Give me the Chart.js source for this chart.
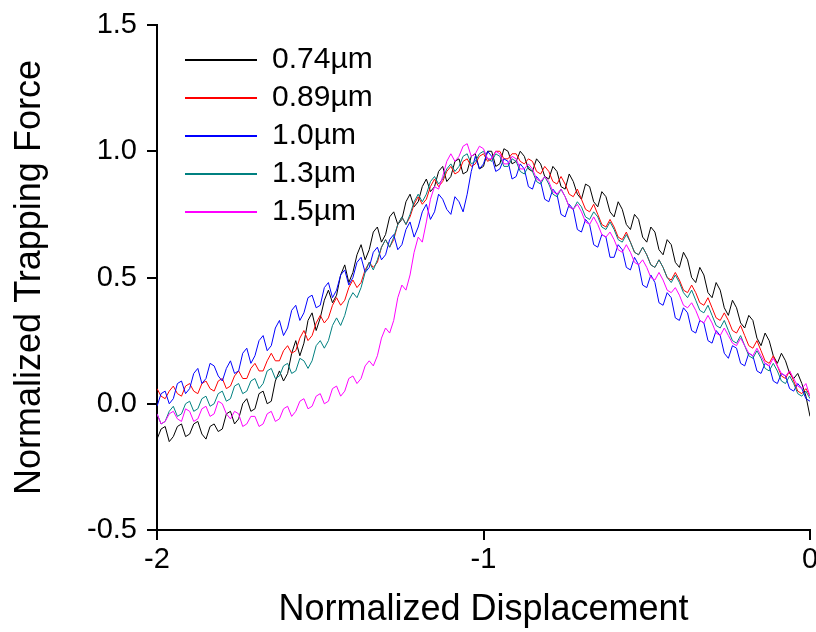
<!DOCTYPE html>
<html lang="en">
<head>
    <meta charset="UTF-8">
    <title>Normalized Trapping Force</title>
    <script src="https://cdn.jsdelivr.net/npm/chart.js@4/dist/chart.umd.min.js"></script>
    <style>
        body { margin: 0; background: #fff; }
        #wrap { width: 816px; height: 632px; }
    </style>
</head>
<body>
<div id="wrap"><canvas id="forceChart" width="816" height="632"></canvas></div>
<script>
    // normalized displacement, shared by every trace
    const displacement = [
        -2.0000, -1.9875, -1.9750, -1.9625, -1.9500, -1.9375, -1.9250, -1.9125, -1.9000, -1.8875,
        -1.8750, -1.8625, -1.8500, -1.8375, -1.8250, -1.8125, -1.8000, -1.7875, -1.7750, -1.7625,
        -1.7500, -1.7375, -1.7250, -1.7125, -1.7000, -1.6875, -1.6750, -1.6625, -1.6500, -1.6375,
        -1.6250, -1.6125, -1.6000, -1.5875, -1.5750, -1.5625, -1.5500, -1.5375, -1.5250, -1.5125,
        -1.5000, -1.4875, -1.4750, -1.4625, -1.4500, -1.4375, -1.4250, -1.4125, -1.4000, -1.3875,
        -1.3750, -1.3625, -1.3500, -1.3375, -1.3250, -1.3125, -1.3000, -1.2875, -1.2750, -1.2625,
        -1.2500, -1.2375, -1.2250, -1.2125, -1.2000, -1.1875, -1.1750, -1.1625, -1.1500, -1.1375,
        -1.1250, -1.1125, -1.1000, -1.0875, -1.0750, -1.0625, -1.0500, -1.0375, -1.0250, -1.0125,
        -1.0000, -0.9875, -0.9750, -0.9625, -0.9500, -0.9375, -0.9250, -0.9125, -0.9000, -0.8875,
        -0.8750, -0.8625, -0.8500, -0.8375, -0.8250, -0.8125, -0.8000, -0.7875, -0.7750, -0.7625,
        -0.7500, -0.7375, -0.7250, -0.7125, -0.7000, -0.6875, -0.6750, -0.6625, -0.6500, -0.6375,
        -0.6250, -0.6125, -0.6000, -0.5875, -0.5750, -0.5625, -0.5500, -0.5375, -0.5250, -0.5125,
        -0.5000, -0.4875, -0.4750, -0.4625, -0.4500, -0.4375, -0.4250, -0.4125, -0.4000, -0.3875,
        -0.3750, -0.3625, -0.3500, -0.3375, -0.3250, -0.3125, -0.3000, -0.2875, -0.2750, -0.2625,
        -0.2500, -0.2375, -0.2250, -0.2125, -0.2000, -0.1875, -0.1750, -0.1625, -0.1500, -0.1375,
        -0.1250, -0.1125, -0.1000, -0.0875, -0.0750, -0.0625, -0.0500, -0.0375, -0.0250, -0.0125,
        0.0000
    ];

    const force074 = [
        -0.14, -0.10, -0.09, -0.15, -0.13, -0.09, -0.08, -0.13, -0.12, -0.08,
        -0.07, -0.12, -0.14, -0.09, -0.08, -0.11, -0.10, -0.04, -0.03, -0.08,
        -0.06, 0.00, 0.02, -0.03, -0.02, 0.04, 0.05, 0.00, 0.01, 0.09,
        0.13, 0.09, 0.12, 0.20, 0.25, 0.19, 0.24, 0.33, 0.36, 0.29,
        0.34, 0.41, 0.45, 0.40, 0.43, 0.51, 0.55, 0.48, 0.52, 0.59,
        0.63, 0.57, 0.61, 0.68, 0.70, 0.64, 0.67, 0.74, 0.76, 0.71,
        0.73, 0.80, 0.83, 0.78, 0.80, 0.86, 0.89, 0.84, 0.86, 0.92,
        0.94, 0.88, 0.90, 0.96, 0.97, 0.91, 0.92, 0.98, 0.99, 0.93,
        0.94, 1.00, 1.00, 0.94, 0.95, 1.01, 1.00, 0.95, 0.96, 1.00,
        0.98, 0.93, 0.92, 0.97, 0.95, 0.90, 0.89, 0.94, 0.92, 0.86,
        0.85, 0.91, 0.88, 0.83, 0.81, 0.87, 0.86, 0.80, 0.78, 0.84,
        0.82, 0.76, 0.74, 0.80, 0.77, 0.71, 0.69, 0.75, 0.73, 0.66,
        0.64, 0.70, 0.68, 0.61, 0.59, 0.65, 0.63, 0.56, 0.54, 0.60,
        0.57, 0.50, 0.48, 0.54, 0.51, 0.44, 0.42, 0.48, 0.45, 0.38,
        0.35, 0.41, 0.38, 0.32, 0.30, 0.35, 0.33, 0.26, 0.23, 0.28,
        0.25, 0.19, 0.16, 0.20, 0.17, 0.12, 0.10, 0.12, 0.08, 0.03,
        -0.05
    ];
    const force089 = [
        0.06, 0.03, 0.02, 0.05, 0.07, 0.04, 0.03, 0.07, 0.08, 0.05,
        0.04, 0.08, 0.09, 0.06, 0.05, 0.09, 0.10, 0.06, 0.07, 0.11,
        0.13, 0.10, 0.10, 0.14, 0.16, 0.13, 0.13, 0.17, 0.20, 0.17,
        0.17, 0.21, 0.23, 0.20, 0.21, 0.26, 0.29, 0.25, 0.27, 0.32,
        0.35, 0.32, 0.34, 0.39, 0.42, 0.39, 0.41, 0.46, 0.49, 0.46,
        0.48, 0.53, 0.56, 0.54, 0.56, 0.62, 0.65, 0.62, 0.65, 0.71,
        0.74, 0.71, 0.74, 0.79, 0.82, 0.79, 0.81, 0.86, 0.89, 0.86,
        0.88, 0.92, 0.94, 0.91, 0.92, 0.96, 0.97, 0.94, 0.95, 0.98,
        0.99, 0.96, 0.97, 1.00, 1.00, 0.97, 0.97, 0.99, 0.99, 0.96,
        0.95, 0.97, 0.96, 0.92, 0.91, 0.94, 0.92, 0.88, 0.87, 0.90,
        0.87, 0.83, 0.82, 0.85, 0.81, 0.77, 0.76, 0.79, 0.75, 0.71,
        0.70, 0.73, 0.70, 0.66, 0.65, 0.68, 0.64, 0.60, 0.59, 0.62,
        0.59, 0.55, 0.54, 0.57, 0.54, 0.50, 0.49, 0.52, 0.49, 0.45,
        0.44, 0.47, 0.44, 0.40, 0.39, 0.42, 0.38, 0.34, 0.33, 0.36,
        0.33, 0.29, 0.28, 0.31, 0.27, 0.23, 0.22, 0.25, 0.21, 0.17,
        0.16, 0.19, 0.15, 0.11, 0.10, 0.13, 0.09, 0.05, 0.04, 0.06,
        0.03
    ];
    const force100 = [
        -0.01, 0.04, 0.05, 0.00, 0.02, 0.08, 0.09, 0.04, 0.06, 0.12,
        0.14, 0.08, 0.10, 0.16, 0.15, 0.11, 0.09, 0.14, 0.17, 0.12,
        0.13, 0.20, 0.22, 0.16, 0.19, 0.25, 0.27, 0.21, 0.23, 0.30,
        0.33, 0.27, 0.30, 0.37, 0.39, 0.33, 0.36, 0.42, 0.43, 0.38,
        0.39, 0.46, 0.48, 0.42, 0.45, 0.51, 0.53, 0.47, 0.50, 0.56,
        0.58, 0.52, 0.54, 0.60, 0.62, 0.57, 0.59, 0.65, 0.67, 0.61,
        0.63, 0.69, 0.72, 0.66, 0.70, 0.76, 0.79, 0.73, 0.76, 0.83,
        0.81, 0.77, 0.75, 0.82, 0.80, 0.76, 0.83, 0.92, 0.98, 0.93,
        0.95, 1.00, 0.98, 0.92, 0.93, 0.97, 0.96, 0.89, 0.90, 0.95,
        0.93, 0.86, 0.85, 0.90, 0.88, 0.81, 0.80, 0.85, 0.83, 0.75,
        0.74, 0.79, 0.77, 0.69, 0.68, 0.73, 0.71, 0.63, 0.62, 0.67,
        0.66, 0.58, 0.58, 0.63, 0.61, 0.54, 0.53, 0.58, 0.55, 0.47,
        0.46, 0.51, 0.48, 0.40, 0.39, 0.44, 0.42, 0.34, 0.33, 0.38,
        0.36, 0.29, 0.28, 0.33, 0.32, 0.25, 0.24, 0.29, 0.27, 0.20,
        0.18, 0.23, 0.22, 0.16, 0.15, 0.20, 0.19, 0.13, 0.12, 0.16,
        0.15, 0.09, 0.08, 0.12, 0.11, 0.06, 0.05, 0.08, 0.06, 0.02,
        0.01
    ];
    const force130 = [
        -0.04, -0.08, -0.07, -0.03, -0.01, -0.05, -0.04, 0.00, 0.01, -0.03,
        -0.02, 0.02, 0.03, -0.01, 0.00, 0.04, 0.05, 0.01, 0.02, 0.07,
        0.08, 0.04, 0.05, 0.09, 0.10, 0.06, 0.08, 0.13, 0.14, 0.10,
        0.11, 0.15, 0.16, 0.12, 0.13, 0.18, 0.17, 0.14, 0.17, 0.23,
        0.25, 0.22, 0.25, 0.31, 0.34, 0.31, 0.35, 0.41, 0.44, 0.42,
        0.46, 0.52, 0.56, 0.53, 0.57, 0.62, 0.65, 0.62, 0.66, 0.71,
        0.74, 0.71, 0.75, 0.80, 0.83, 0.80, 0.83, 0.88, 0.90, 0.87,
        0.89, 0.93, 0.95, 0.92, 0.94, 0.98, 0.99, 0.95, 0.96, 0.99,
        1.00, 0.97, 0.96, 0.99, 0.98, 0.94, 0.94, 0.97, 0.96, 0.92,
        0.91, 0.94, 0.92, 0.88, 0.87, 0.90, 0.87, 0.83, 0.82, 0.85,
        0.82, 0.78, 0.77, 0.80, 0.78, 0.74, 0.73, 0.76, 0.74, 0.70,
        0.69, 0.72, 0.69, 0.65, 0.64, 0.67, 0.64, 0.60, 0.59, 0.62,
        0.59, 0.55, 0.54, 0.57, 0.54, 0.50, 0.48, 0.51, 0.48, 0.44,
        0.42, 0.45, 0.41, 0.37, 0.36, 0.39, 0.35, 0.31, 0.30, 0.33,
        0.29, 0.25, 0.24, 0.27, 0.23, 0.19, 0.18, 0.21, 0.18, 0.14,
        0.13, 0.16, 0.13, 0.09, 0.08, 0.11, 0.08, 0.04, 0.03, 0.05,
        0.02
    ];
    const force150 = [
        -0.04, -0.08, -0.07, -0.04, -0.03, -0.06, -0.07, -0.02, -0.03, -0.07,
        -0.06, -0.02, -0.01, -0.05, -0.04, 0.01, 0.00, -0.04, -0.06, -0.03,
        -0.04, -0.09, -0.08, -0.05, -0.05, -0.09, -0.08, -0.04, -0.03, -0.07,
        -0.06, -0.02, -0.01, -0.05, -0.03, 0.01, 0.02, -0.02, -0.01, 0.03,
        0.04, 0.00, 0.01, 0.06, 0.07, 0.03, 0.05, 0.10, 0.11, 0.08,
        0.10, 0.15, 0.17, 0.15, 0.19, 0.26, 0.30, 0.28, 0.33, 0.42,
        0.47, 0.45, 0.51, 0.60, 0.66, 0.64, 0.72, 0.81, 0.86, 0.85,
        0.90, 0.96, 0.99, 0.96, 0.98, 1.02, 1.03, 0.98, 0.99, 1.02,
        1.01, 0.97, 0.97, 1.00, 0.99, 0.95, 0.95, 0.98, 0.97, 0.93,
        0.93, 0.95, 0.93, 0.89, 0.88, 0.90, 0.88, 0.84, 0.83, 0.85,
        0.82, 0.78, 0.77, 0.79, 0.76, 0.72, 0.71, 0.74, 0.71, 0.67,
        0.66, 0.68, 0.65, 0.61, 0.60, 0.63, 0.60, 0.56, 0.55, 0.57,
        0.54, 0.50, 0.49, 0.52, 0.49, 0.45, 0.44, 0.46, 0.43, 0.39,
        0.38, 0.40, 0.37, 0.33, 0.32, 0.35, 0.32, 0.28, 0.27, 0.30,
        0.27, 0.24, 0.23, 0.26, 0.23, 0.20, 0.19, 0.22, 0.19, 0.16,
        0.15, 0.18, 0.15, 0.12, 0.11, 0.13, 0.10, 0.07, 0.06, 0.08,
        0.03
    ];

    const seriesLabels = ['0.74\u00b5m', '0.89\u00b5m', '1.0\u00b5m', '1.3\u00b5m', '1.5\u00b5m'];
    const seriesValues = [force074, force089, force100, force130, force150];
    const xTicks = [-2, -1, 0];
    const yTicks = [-0.5, 0.0, 0.5, 1.0, 1.5];

    const colors = ['#000000', '#ff0000', '#0000ff', '#008080', '#ff00ff'];
    const FONT = 'Liberation Sans, Arial, sans-serif';

    const datasets = seriesValues.map((ys, i) => ({
        label: seriesLabels[i],
        data: ys.map((y, k) => ({x: displacement[k], y: y})),
        borderColor: colors[i],
        backgroundColor: colors[i],
        borderWidth: 1,
        pointRadius: 0,
        tension: 0,
        fill: false,
        order: seriesValues.length - i   // later series on top
    }));

    // move the in-plot legend to where the original has it
    const legendOffset = {
        id: 'legendOffset',
        afterLayout(chart) {
            const lg = chart.legend;
            const ca = chart.chartArea;
            lg.left = ca.left + 20;
            lg.top = ca.top + 12;
            lg.right = lg.left + lg.width;
            lg.bottom = lg.top + lg.height;
        }
    };

    const ctx = document.getElementById('forceChart').getContext('2d');
    const chart = new Chart(ctx, {
        type: 'line',
        data: { datasets: datasets },
        plugins: [legendOffset],
        options: {
            responsive: false,
            animation: false,
            layout: { padding: { left: 0, top: 25, right: 6, bottom: 0 } },
            plugins: {
                tooltip: { enabled: false },
                legend: {
                    position: 'chartArea',
                    align: 'start',
                    labels: {
                        boxWidth: 72,
                        boxHeight: 2,
                        padding: 8,
                        color: '#000',
                        font: { family: FONT, size: 30 },
                        generateLabels: (c) => c.data.datasets.map((ds, i) => ({
                            text: ds.label,
                            fillStyle: ds.borderColor,
                            strokeStyle: ds.borderColor,
                            lineWidth: 0,
                            hidden: false,
                            datasetIndex: i,
                            fontColor: '#000'
                        }))
                    }
                }
            },
            scales: {
                x: {
                    type: 'linear',
                    min: -2,
                    max: 0,
                    afterBuildTicks: (s) => { s.ticks = xTicks.map(v => ({value: v})); },
                    afterFit: (s) => { s.height = 102; s.paddingLeft = 0; s.paddingRight = 0; },
                    grid: { drawOnChartArea: false, drawTicks: true, tickLength: 10, color: '#000', lineWidth: 2 },
                    border: { color: '#000', width: 2 },
                    ticks: {
                        color: '#000',
                        padding: 3,
                        maxRotation: 0,
                        font: { family: FONT, size: 29 }
                    },
                    title: {
                        display: true,
                        text: 'Normalized Displacement',
                        color: '#000',
                        font: { family: FONT, size: 36, lineHeight: 1 },
                        padding: { top: 0, bottom: 4 }
                    }
                },
                y: {
                    min: -0.5,
                    max: 1.5,
                    afterBuildTicks: (s) => { s.ticks = yTicks.map(v => ({value: v})); },
                    afterFit: (s) => { s.width = 157; s.paddingTop = 0; s.paddingBottom = 0; },
                    grid: { drawOnChartArea: false, drawTicks: true, tickLength: 10, color: '#000', lineWidth: 2 },
                    border: { color: '#000', width: 2 },
                    ticks: {
                        color: '#000',
                        padding: 10,
                        font: { family: FONT, size: 29 },
                        callback: (v) => Number(v).toFixed(1)
                    },
                    title: {
                        display: true,
                        text: 'Normalized Trapping Force',
                        color: '#000',
                        font: { family: FONT, size: 36, lineHeight: 1 },
                        padding: { top: 12, bottom: 0 }
                    }
                }
            }
        }
    });
</script>
</body>
</html>
